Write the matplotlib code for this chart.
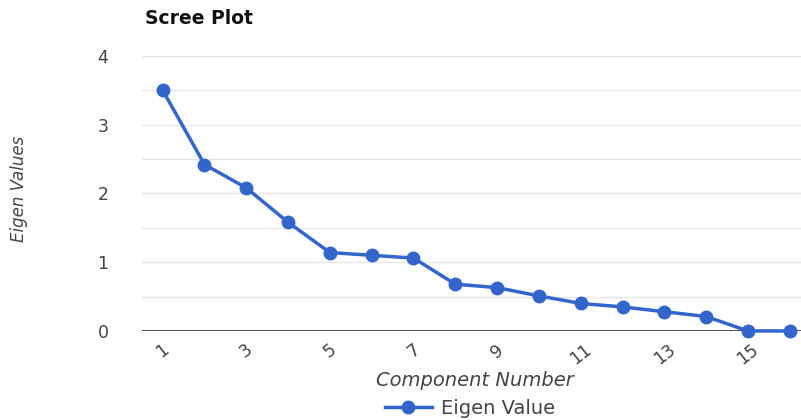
#!/usr/bin/env python3
"""Scree plot of eigen values per component."""

import matplotlib
matplotlib.use("Agg")
import matplotlib.pyplot as plt
import numpy as np

components = list(range(1, 17))
eigen_values = [3.50, 2.42, 2.08, 1.58, 1.14, 1.10, 1.06, 0.68,
                0.63, 0.51, 0.40, 0.35, 0.28, 0.21, 0.0, 0.0]
x_ticks = [1, 3, 5, 7, 9, 11, 13, 15]
y_ticks = [0, 1, 2, 3, 4]

plt.rcParams["font.family"] = ["DejaVu Sans"]
blue = "#3366cc"
grey = "#444444"

fig = plt.figure(figsize=(8.01, 4.2), dpi=100)
ax = fig.add_axes([0.177, 0.212, 0.835, 0.655])

ax.plot(components, eigen_values, "o-", color=blue, linewidth=2.5,
        markersize=9, label="Eigen Value", clip_on=False, zorder=3)

ax.set_xlim(0.5, 16.5)
ax.set_ylim(0, 4)
ax.set_yticks(y_ticks)
ax.set_yticks(np.arange(0.5, 4, 1.0), minor=True)
ax.set_xticks(x_ticks)
ax.set_xticklabels([str(t) for t in x_ticks], rotation=38, ha="center")
ax.grid(axis="y", which="both", color="#e6e6e6", linewidth=1)
ax.axhline(0, color="#555555", linewidth=1.5, zorder=2)
for s in ax.spines.values():
    s.set_visible(False)
ax.tick_params(axis="both", which="both", length=0, labelsize=12.5,
               colors=grey)
ax.tick_params(axis="y", pad=24)
ax.tick_params(axis="x", pad=7)

fig.text(0.181, 0.955, "Scree Plot", fontsize=13.5, fontweight="bold",
         color="#111111", ha="left", va="center")
fig.text(0.024, 0.55, "Eigen Values", fontsize=12, style="italic",
         color=grey, rotation=90, ha="center", va="center")
fig.text(0.593, 0.093, "Component Number", fontsize=14, style="italic",
         color=grey, ha="center", va="center")
fig.legend(loc="center", bbox_to_anchor=(0.587, 0.028), frameon=False,
           fontsize=14, labelcolor=grey, handlelength=2.4,
           handletextpad=0.5)

plt.savefig("out.png", dpi=100)
plt.close()
